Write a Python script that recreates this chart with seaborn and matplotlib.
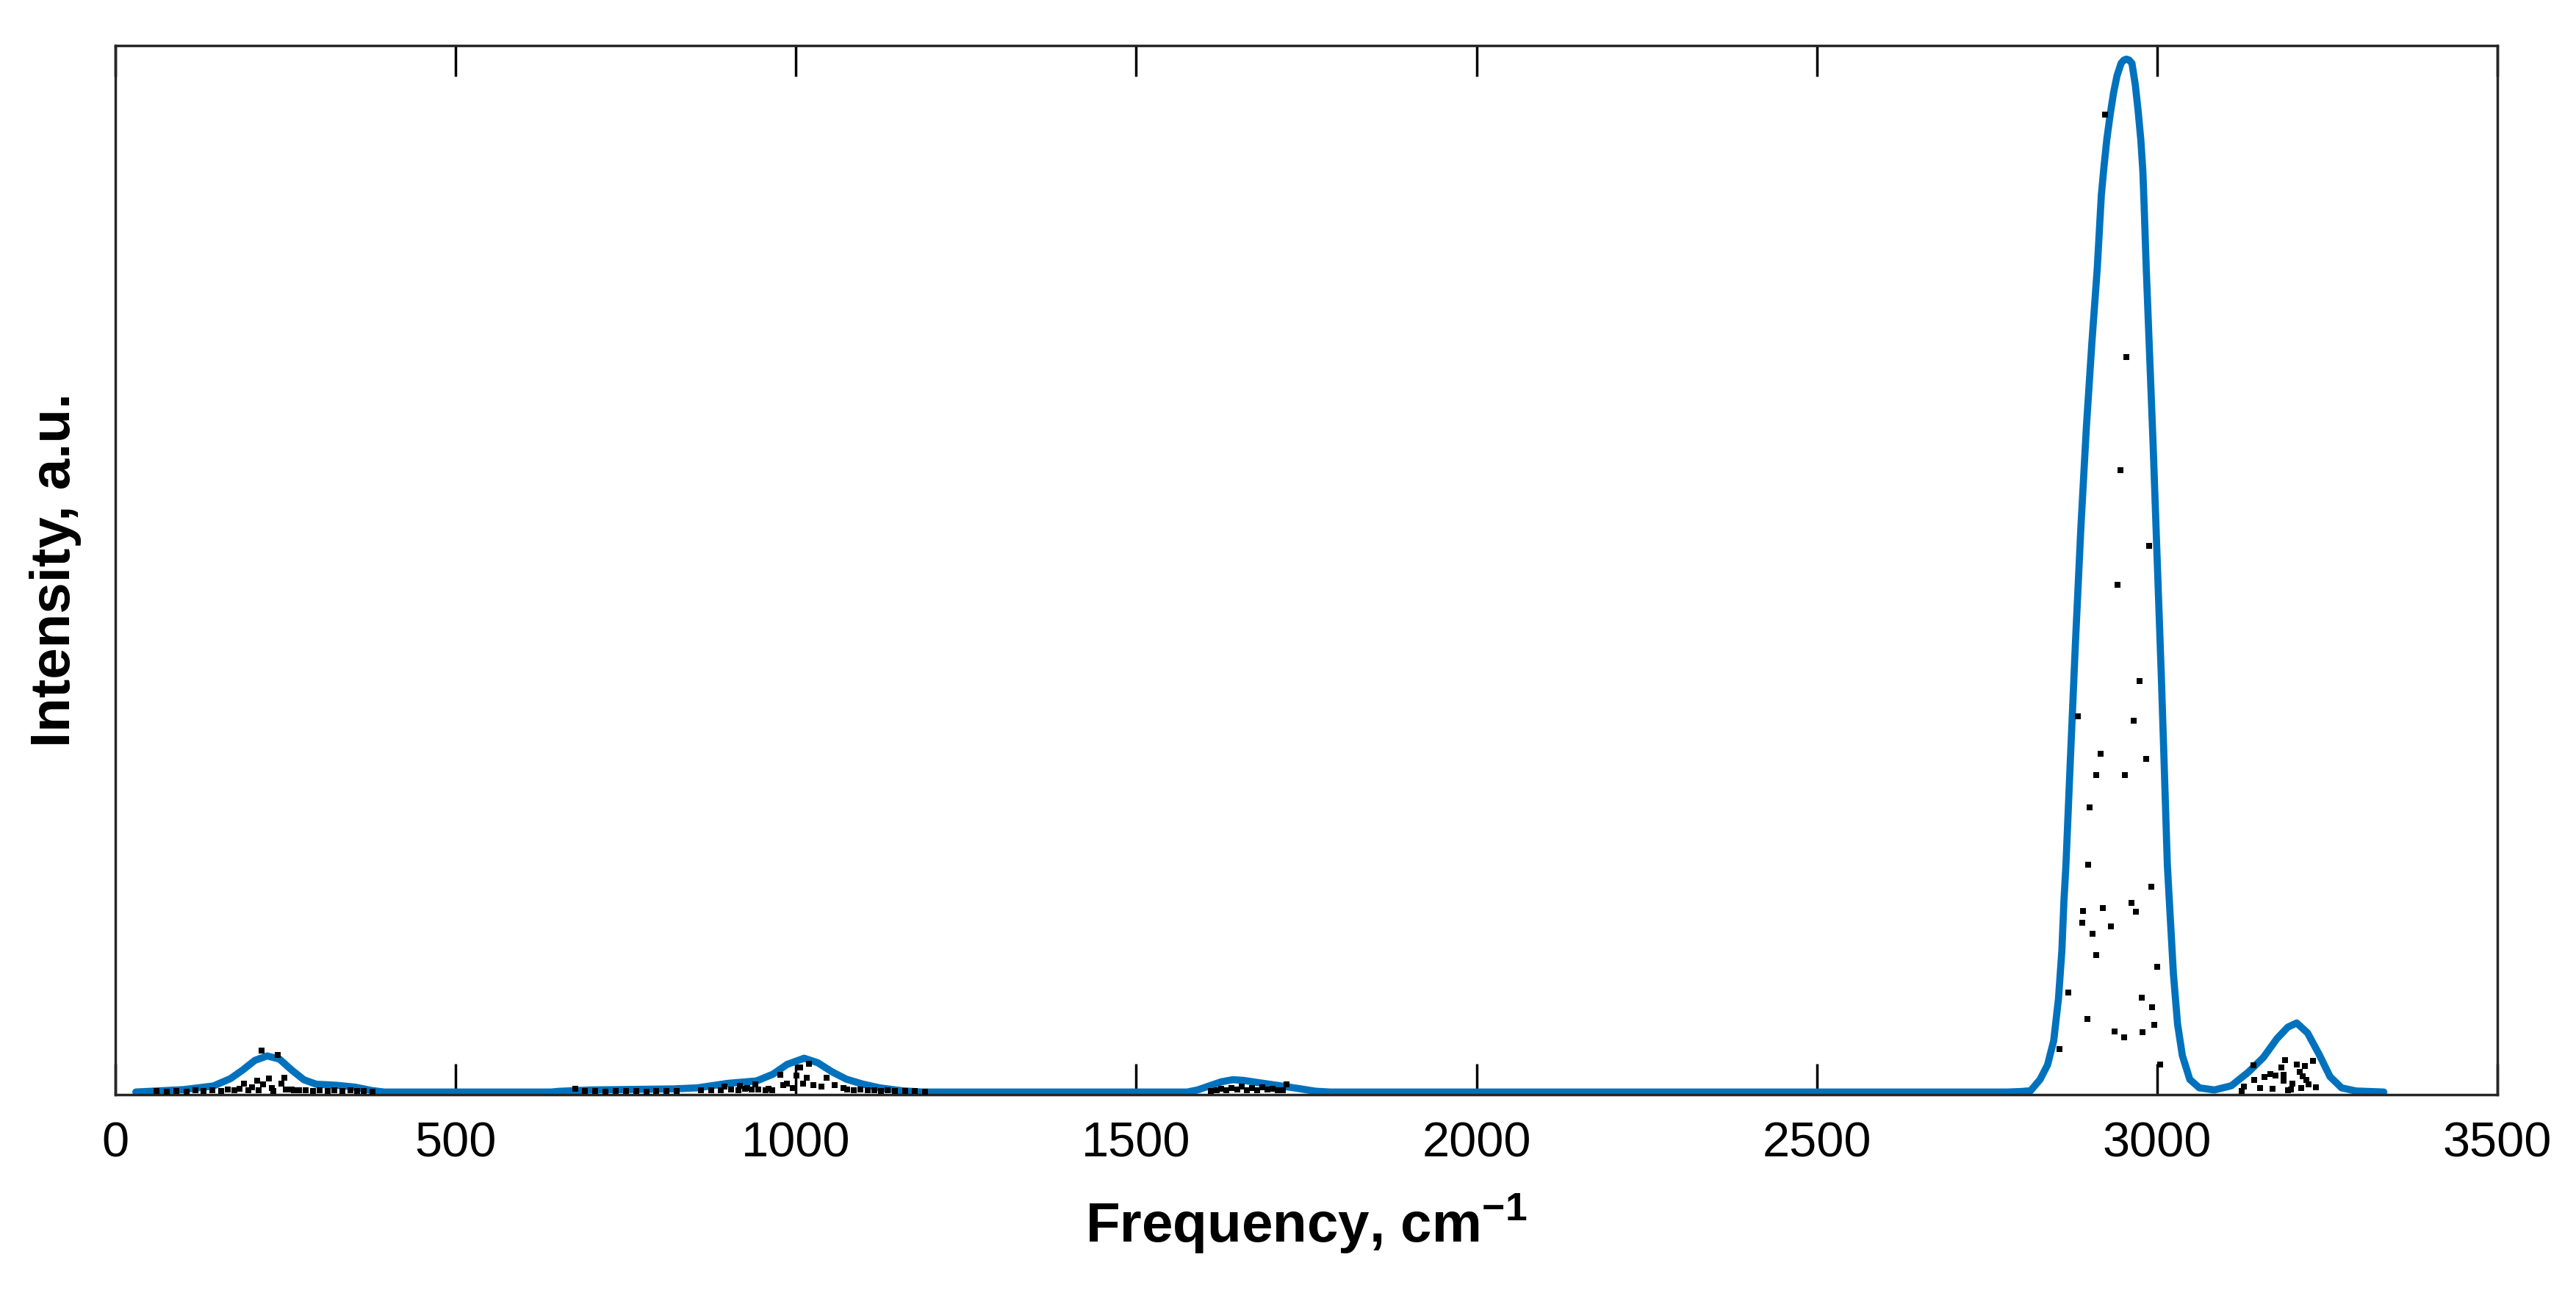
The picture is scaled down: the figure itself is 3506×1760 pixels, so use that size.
import numpy as np
import pandas as pd
import matplotlib
matplotlib.use("Agg")
import matplotlib.pyplot as plt
import seaborn as sns

# spectrum envelope
curve_freq = [30, 100, 144, 169, 187, 205, 223, 241, 259, 277, 295, 324, 352, 377, 395,
              640, 652, 700, 760, 820, 855, 900, 942, 966, 987, 1012, 1032, 1053, 1074,
              1098, 1123, 1156, 1185, 1575, 1590, 1608, 1625, 1642, 1658, 1675, 1708,
              1741, 1763, 1785,
              2780, 2800, 2814, 2828, 2839, 2848, 2855, 2860, 2863, 2866, 2872, 2880,
              2888, 2896, 2904, 2912, 2915, 2918, 2922, 2926, 2931, 2936, 2941, 2947,
              2951, 2955, 2959, 2963, 2968, 2972, 2976, 2979, 2981, 2984, 2988, 2994,
              3000, 3006, 3010, 3015, 3019, 3024, 3030, 3037, 3048, 3062, 3084, 3109,
              3134, 3156, 3176, 3192, 3205, 3221, 3238, 3254, 3271, 3292, 3333]
curve_int = [0.0, 0.0023, 0.0058, 0.0128, 0.021, 0.0303, 0.0345, 0.0315, 0.021, 0.0117,
             0.0075, 0.0065, 0.0047, 0.0014, 0.0,
             0.0, 0.0007, 0.002, 0.0025, 0.003, 0.004, 0.0083, 0.0106, 0.017, 0.0264,
             0.0323, 0.028, 0.0193, 0.0123, 0.0076, 0.004, 0.0012, 0.0,
             0.0, 0.002, 0.006, 0.0098, 0.0118, 0.0111, 0.0094, 0.0063,
             0.0031, 0.0008, 0.0,
             0.0, 0.0005, 0.0012, 0.012, 0.026, 0.049, 0.089, 0.135, 0.182, 0.217,
             0.31, 0.43, 0.54, 0.635, 0.715, 0.787, 0.822, 0.857, 0.885, 0.910, 0.934,
             0.955, 0.971, 0.983, 0.986, 0.987, 0.986, 0.983, 0.962, 0.938, 0.910,
             0.880, 0.845, 0.787, 0.72, 0.62, 0.51, 0.40, 0.32, 0.217, 0.170, 0.112,
             0.065, 0.035, 0.012, 0.004, 0.002, 0.006, 0.019, 0.033, 0.051, 0.062,
             0.066, 0.0565, 0.036, 0.0147, 0.004, 0.001, 0.0]

# individual line intensities (black dots)
dot_freq = [
    # ~220 band
    60, 75, 90, 105, 118, 130, 142, 155, 165, 175, 182, 195, 210, 232, 250, 262,
    280, 290, 300, 312, 322, 333, 345, 355, 365, 378,
    215, 239, 248, 226, 208, 189, 217, 244, 201, 230, 259, 270,
    # ~1000 band
    676, 690, 705, 720, 735, 750, 765, 780, 795, 810, 825, 860, 875, 890, 905,
    915, 925, 935, 945, 955, 965, 1075, 1085, 1095, 1105, 1115, 1125, 1135, 1145,
    1160, 1175, 1190,
    895, 918, 928, 940,
    1019, 1006, 977, 1016, 987, 1001, 1010, 1026, 1045, 1057, 981, 995, 1037, 960, 1070,
    # ~1650 band
    1610, 1618, 1625, 1632, 1640, 1648, 1655, 1662, 1670, 1678, 1685, 1693, 1700,
    1708, 1715, 1721,
    # ~2950 band
    2923, 2955, 2946, 2988, 2942, 2974, 2883, 2965, 2917, 2984, 2911, 2953, 2901,
    2899, 2991, 2962, 2891, 2920, 2969, 2890, 2932, 2905, 2910, 3000, 2869, 2977,
    2993, 2898, 2996, 2937, 2951, 2978, 2857, 3004,
    # ~3200 band
    3141, 3188, 3229, 3182, 3205, 3217, 3166, 3174, 3158, 3186, 3209, 3214, 3143,
    3219, 3186, 3199, 3223, 3128, 3151, 3170, 3192, 3212, 3233, 3124, 3197]
dot_int = [
    0.0008, 0.0005, 0.0012, 0.0006, 0.0015, 0.0009, 0.0018, 0.0011, 0.0022, 0.0014,
    0.0030, 0.0020, 0.0016, 0.0012, 0.0025, 0.0015, 0.0018, 0.0010, 0.0020, 0.0012,
    0.0016, 0.0009, 0.0014, 0.0008, 0.0011, 0.0006,
    0.0397, 0.0355, 0.0140, 0.0128, 0.0105, 0.0082, 0.0070, 0.0082, 0.0047, 0.0035,
    0.0023, 0.0019,
    0.0030, 0.0008, 0.0012, 0.0006, 0.0010, 0.0007, 0.0011, 0.0006, 0.0010, 0.0008,
    0.0012, 0.0014, 0.0020, 0.0016, 0.0024, 0.0018, 0.0030, 0.0022, 0.0026, 0.0020,
    0.0015, 0.0022, 0.0018, 0.0025, 0.0014, 0.0020, 0.0012, 0.0016, 0.0010, 0.0012,
    0.0008, 0.0006,
    0.0050, 0.0060, 0.0040, 0.0070,
    0.0271, 0.0236, 0.0163, 0.0139, 0.0083, 0.0158, 0.0083, 0.0069, 0.0134, 0.0069,
    0.0069, 0.0040, 0.0052, 0.0028, 0.0040,
    0.0010, 0.0020, 0.0030, 0.0015, 0.0040, 0.0025, 0.0050, 0.0020, 0.0035, 0.0015,
    0.0045, 0.0025, 0.0030, 0.0015, 0.0020, 0.0070,
    0.934, 0.702, 0.594, 0.522, 0.485, 0.393, 0.359, 0.355, 0.323, 0.318, 0.303,
    0.303, 0.272, 0.217, 0.196, 0.181, 0.173, 0.176, 0.172, 0.162, 0.158, 0.151,
    0.131, 0.120, 0.095, 0.090, 0.081, 0.070, 0.064, 0.058, 0.052, 0.057, 0.041,
    0.026,
    0.0257, 0.0307, 0.0296, 0.0233, 0.0260, 0.0250, 0.0170, 0.0156, 0.0144, 0.0163,
    0.0190, 0.0153, 0.0117, 0.0117, 0.0106, 0.0082, 0.0072, 0.0052, 0.0040, 0.0028,
    0.0019, 0.0035, 0.0047, 0.0010, 0.0023]

x_ticks = [0, 500, 1000, 1500, 2000, 2500, 3000, 3500]

curve = pd.DataFrame({"freq": curve_freq, "intensity": curve_int})
dots = pd.DataFrame({"freq": dot_freq, "intensity": dot_int})

sns.set_style("white")
plt.rcParams["font.family"] = ["Liberation Sans", "DejaVu Sans"]
plt.rcParams["mathtext.fontset"] = "custom"
plt.rcParams["mathtext.rm"] = "Liberation Sans"
plt.rcParams["mathtext.bf"] = "Liberation Sans:bold"

fig = plt.figure(figsize=(35.06, 17.6), dpi=100)
ax = fig.add_axes([0.0448, 0.1534, 0.9247, 0.8114])

blue = "#0072BD"
sns.lineplot(data=curve, x="freq", y="intensity", ax=ax, color=blue,
             linewidth=7, sort=False, estimator=None, zorder=2)
sns.scatterplot(data=dots, x="freq", y="intensity", ax=ax, color="black",
                marker="s", s=28, linewidth=0, zorder=3)

ax.set_xlim(0, 3500)
ax.set_ylim(-0.0025, 1.0)
ax.set_xticks(x_ticks)
ax.set_xticklabels([str(t) for t in x_ticks])
ax.set_yticks([])
ax.tick_params(axis="x", direction="in", length=30, width=2.5, top=True,
               bottom=True, labelsize=48, pad=26, colors="black")

for sp in ax.spines.values():
    sp.set_visible(True)
    sp.set_linewidth(2.5)
    sp.set_color("#262626")

ax.set_xlabel(r"Frequency, cm$^{\mathbf{-1}}$", fontsize=55, fontweight="bold",
              color="black")
ax.set_ylabel("Intensity, a.u.", fontsize=55, fontweight="bold", color="black")
ax.xaxis.set_label_coords(0.5, -0.093)
ax.yaxis.set_label_coords(-0.0142, 0.5)

fig.savefig("out.png", dpi=100, facecolor="white")
